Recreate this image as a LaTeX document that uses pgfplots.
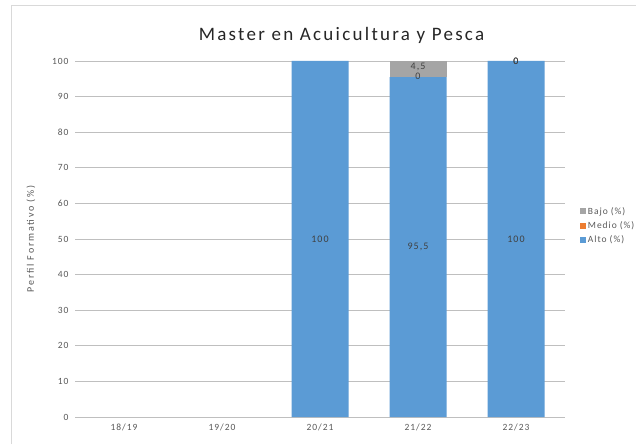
\documentclass[border=0pt]{standalone}
\usepackage{pgfplots}
\pgfplotsset{compat=1.18}
\usepackage{fontspec}
\setmainfont{Carlito}
\newfontfamily\spaced[LetterSpace=10]{Carlito}
\newfontfamily\wide[LetterSpace=18]{Carlito}
\newfontfamily\titlefont[LetterSpace=12]{Carlito}
\definecolor{alto}{HTML}{5B9BD5}
\definecolor{medio}{HTML}{ED7D31}
\definecolor{bajo}{HTML}{A5A5A5}
\definecolor{grid}{HTML}{D9D9D9}
\definecolor{txt}{HTML}{595959}
\definecolor{lbl}{HTML}{404040}
\begin{document}
\begin{tikzpicture}[x=1pt,y=1pt]
\useasboundingbox (0,0) rectangle (636,444);
\fill[white] (0,0) rectangle (636,444);
\draw[grid, line width=0.8pt] (11,0) -- (11,439) -- (636,439);
\begin{axis}[
  at={(75pt,27pt)}, anchor=south west,
  scale only axis, width=490pt, height=356pt,
  ybar stacked, bar width=57pt,
  xmin=-0.5, xmax=4.5, ymin=0, ymax=100,
  xtick={0,1,2,3,4},
  xticklabels={18/19,19/20,20/21,21/22,22/23},
  ytick={0,10,...,100},
  ymajorgrids, xmajorgrids=false,
  grid style={grid, line width=0.8pt},
  axis line style={draw=none},
  major tick length=0pt,
  tick label style={font=\spaced\fontsize{9.5}{11}\selectfont, text=txt},
  /pgf/number format/assume math mode=true,
  yticklabel style={xshift=-3pt},
  xticklabel style={yshift=-3pt},
  ylabel={Perfil Formativo (\%)},
  every axis y label/.style={at={(rel axis cs:-0.0898,0.5)}, rotate=90, anchor=center,
    font=\wide\fontsize{10}{12}\selectfont, text=txt},
  legend style={at={(1.024,0.537)}, anchor=west, draw=none, fill=none,
    font=\spaced\fontsize{9.5}{11}\selectfont, text=txt, row sep=2pt,
    /tikz/every even column/.append style={column sep=2pt}},
  legend cell align=left,
  reverse legend,
  legend image code/.code={\fill[#1] (0pt,-3pt) rectangle (6pt,3pt);},
]
\addplot[fill=alto, draw=none] coordinates {(0,0) (1,0) (2,100) (3,95.5) (4,100)};
\addplot[fill=medio, draw=none] coordinates {(0,0) (1,0) (2,0) (3,0) (4,0)};
\addplot[fill=bajo, draw=none] coordinates {(0,0) (1,0) (2,0) (3,4.5) (4,0)};
\legend{Alto (\%),Medio (\%),Bajo (\%)}
\end{axis}
\begin{axis}[
  at={(75pt,27pt)}, anchor=south west,
  scale only axis, width=490pt, height=356pt,
  xmin=-0.5, xmax=4.5, ymin=0, ymax=100,
  hide axis, clip=false,
]
\addplot[only marks, mark=none, nodes near coords, point meta=explicit symbolic,
  every node near coord/.style={anchor=center, font=\spaced\fontsize{10}{12}\selectfont, text=lbl}]
  table[meta=label] {
x y label
2 50 100
3 47.75 {95,5}
4 50 100
3 95.8 0
3 98.3 {4,5}
4 100 0
4 100 0
};
\end{axis}
\node[font=\titlefont\fontsize{19}{22}\selectfont, text=black!85, anchor=center] at (341.5,409) {Master en Acuicultura y Pesca};
\end{tikzpicture}
\end{document}
